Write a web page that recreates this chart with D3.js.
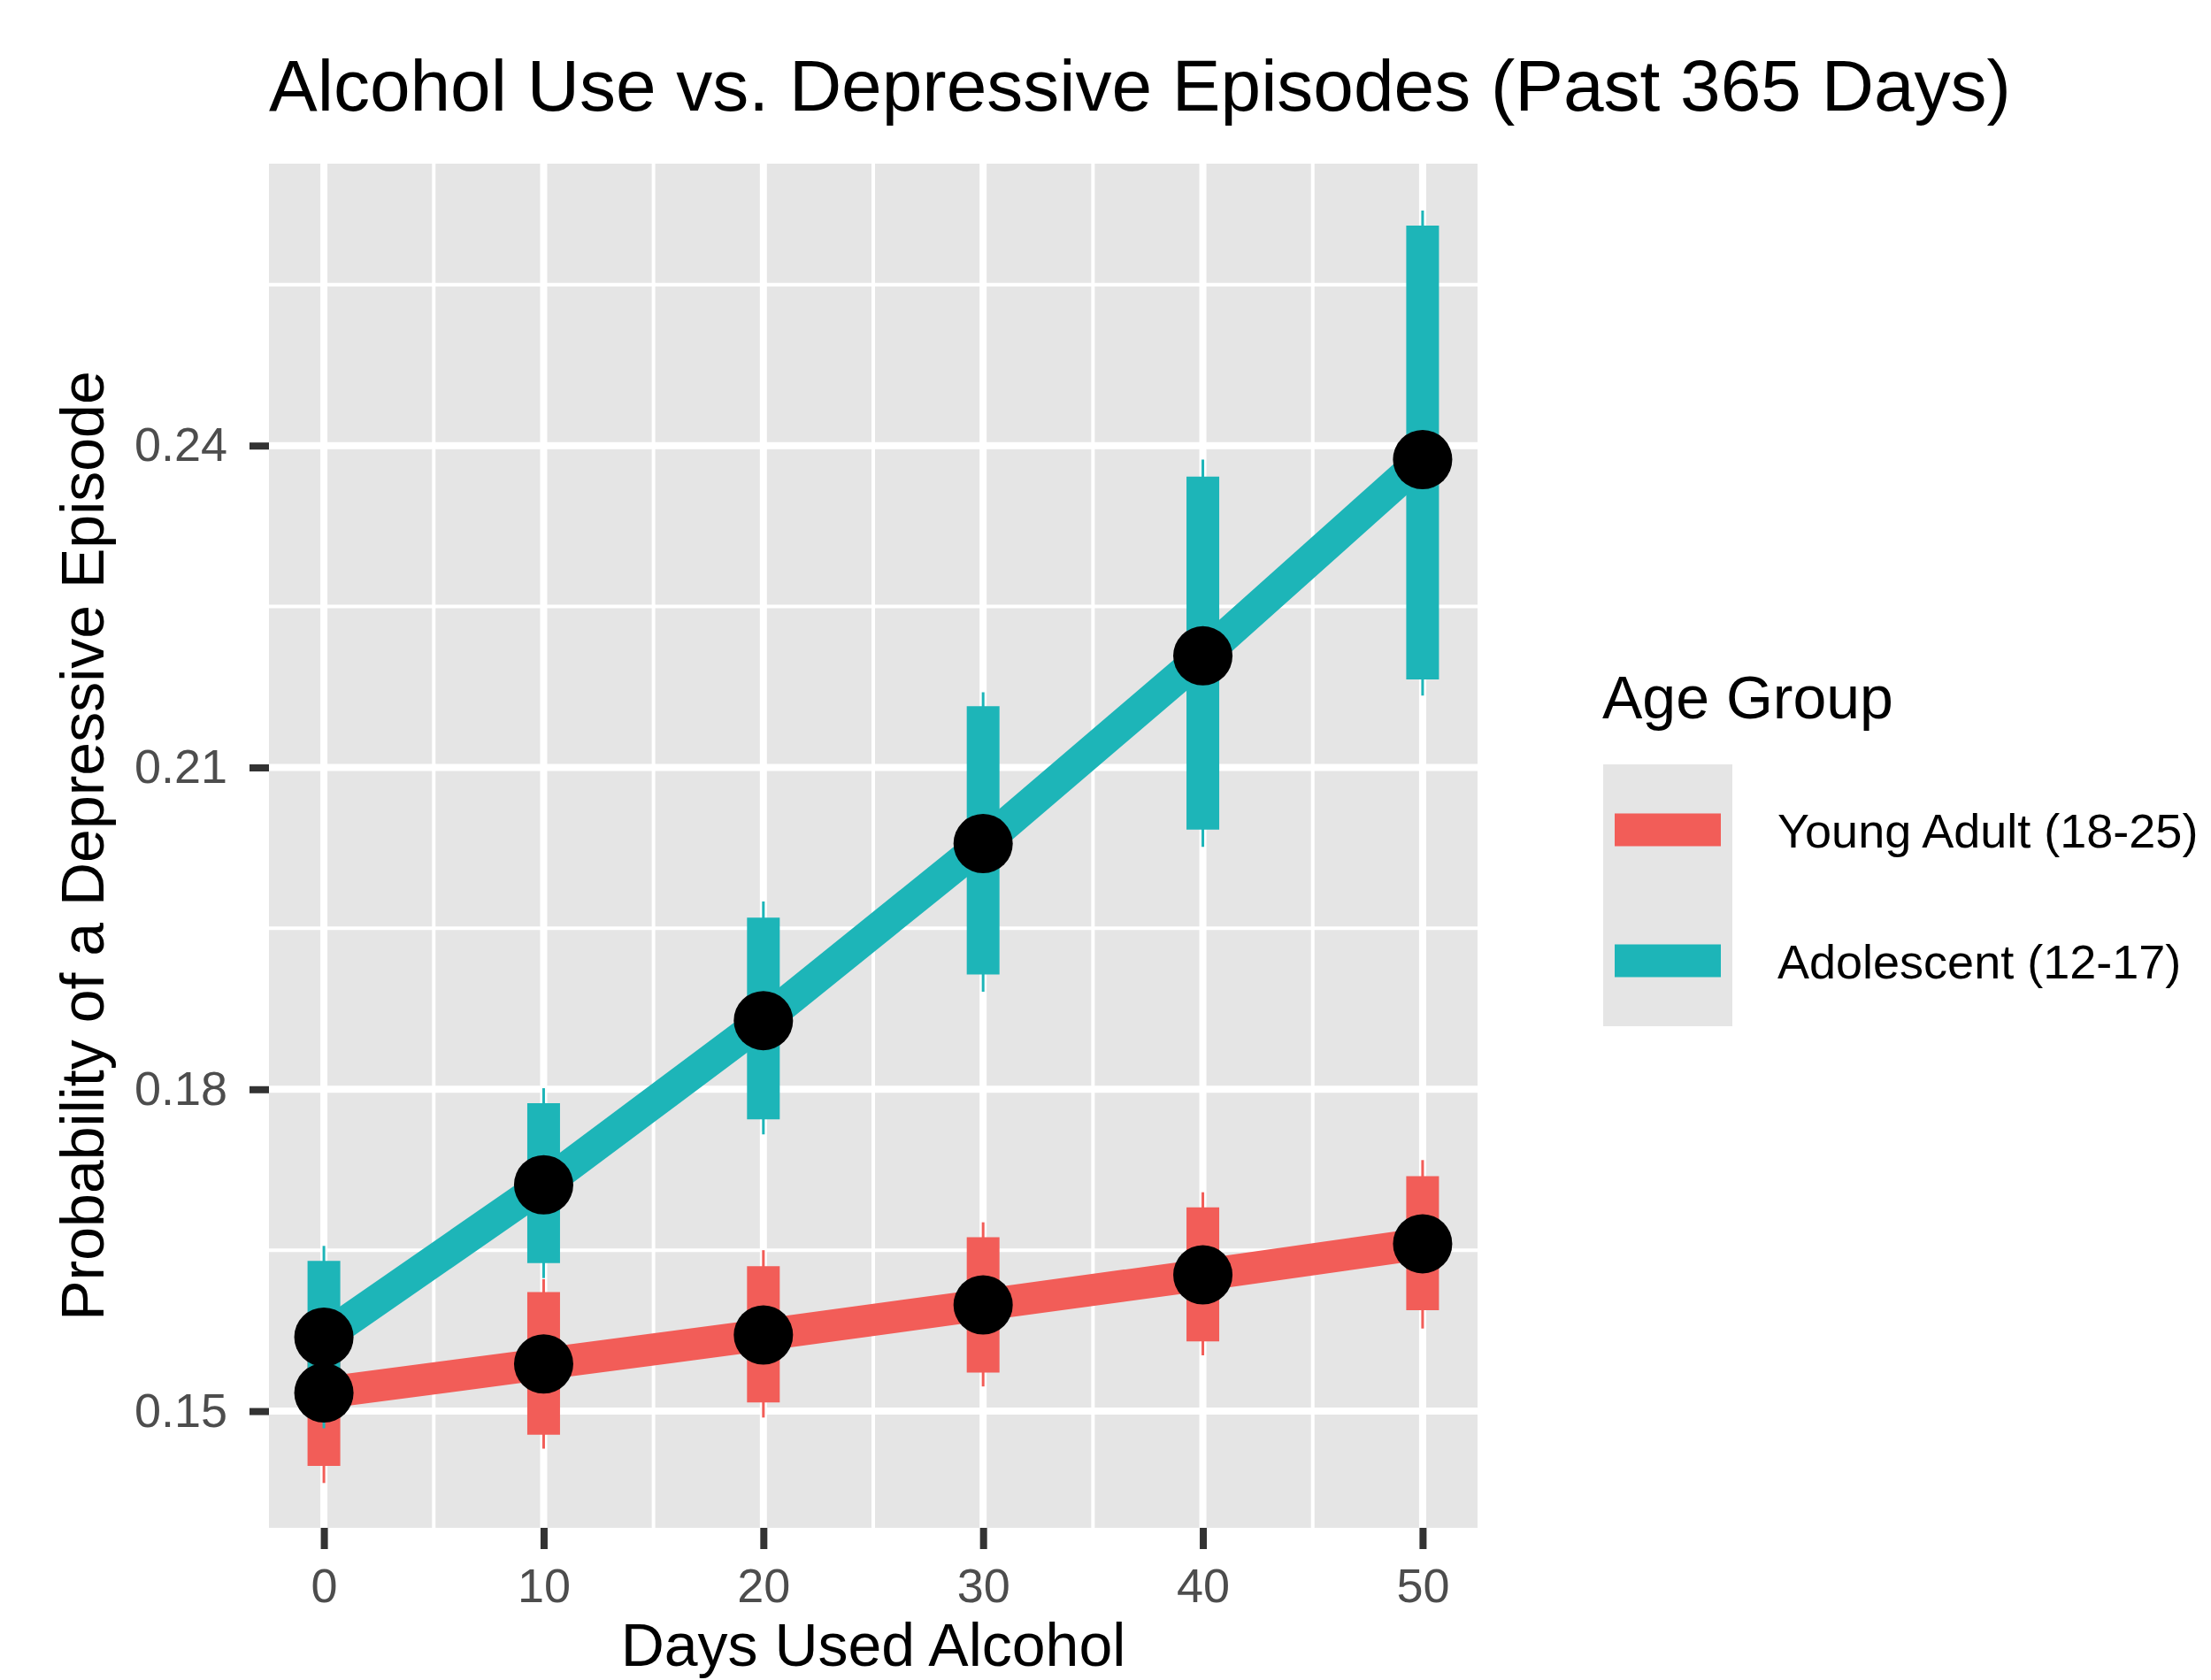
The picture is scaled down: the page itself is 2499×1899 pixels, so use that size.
<!DOCTYPE html>
<html>
<head>
<meta charset="utf-8">
<script src="https://cdn.jsdelivr.net/npm/d3@7"></script>
<style>
  html, body { margin: 0; padding: 0; background: #ffffff; }
  svg { display: block; font-family: "Liberation Sans", Arial, Helvetica, sans-serif; }
</style>
</head>
<body>
<script>
// ---------- DATA ----------
const days = [0, 10, 20, 30, 40, 50];
const groupNames = ["Young Adult (18-25)", "Adolescent (12-17)"];
const groupColors = ["#F25D58", "#1DB5B8"];

const youngAdultProb   = [0.1517, 0.1544, 0.1571, 0.1599, 0.1627, 0.1656];
const youngAdultLo     = [0.1449, 0.1478, 0.1508, 0.1536, 0.1565, 0.1594];
const youngAdultHi     = [0.1585, 0.1611, 0.1635, 0.1662, 0.1690, 0.1719];
const youngAdultLoOuter= [0.1433, 0.1465, 0.1494, 0.1523, 0.1552, 0.1577];
const youngAdultHiOuter= [0.1601, 0.1623, 0.1650, 0.1676, 0.1704, 0.1734];

const adolescentProb   = [0.1569, 0.1711, 0.1864, 0.2029, 0.2204, 0.2387];
const adolescentLo     = [0.1498, 0.1638, 0.1772, 0.1907, 0.2042, 0.2182];
const adolescentHi     = [0.1640, 0.1787, 0.1960, 0.2157, 0.2371, 0.2605];
const adolescentLoOuter= [0.1484, 0.1624, 0.1758, 0.1891, 0.2026, 0.2167];
const adolescentHiOuter= [0.1654, 0.1801, 0.1975, 0.2170, 0.2387, 0.2619];

const xTicks = [0, 10, 20, 30, 40, 50];
const xMinor = [5, 15, 25, 35, 45];
const yTicks = [0.15, 0.18, 0.21, 0.24];
const yMinor = [0.165, 0.195, 0.225, 0.255];

const titleText = "Alcohol Use vs. Depressive Episodes (Past 365 Days)";
const xTitle = "Days Used Alcohol";
const yTitle = "Probability of a Depressive Episode";
const legendTitle = "Age Group";

// ---------- LAYOUT ----------
const W = 2499, H = 1899;
const panel = { left: 304, right: 1670, top: 185, bottom: 1727 };
const fontBase = 68, fontSmall = 54, fontTitle = 82;

const series = [
  { name: groupNames[0], color: groupColors[0], prob: youngAdultProb, lo: youngAdultLo, hi: youngAdultHi, lo2: youngAdultLoOuter, hi2: youngAdultHiOuter },
  { name: groupNames[1], color: groupColors[1], prob: adolescentProb, lo: adolescentLo, hi: adolescentHi, lo2: adolescentLoOuter, hi2: adolescentHiOuter }
];

const svg = d3.select("body").append("svg").attr("width", W).attr("height", H);
svg.append("rect").attr("width", W).attr("height", H).attr("fill", "#ffffff");

// scales (ggplot-like 5% expansion)
const xExt = d3.extent(days);
const xPad = (xExt[1] - xExt[0]) * 0.05;
const x = d3.scaleLinear().domain([xExt[0] - xPad, xExt[1] + xPad]).range([panel.left, panel.right]);
const allLo = d3.min(series, s => d3.min(s.lo));
const allHi = d3.max(series, s => d3.max(s.hi));
const yPad = (allHi - allLo) * 0.05;
const y = d3.scaleLinear().domain([allLo - yPad, allHi + yPad]).range([panel.bottom, panel.top]);

// panel background
svg.append("rect")
  .attr("x", panel.left).attr("y", panel.top)
  .attr("width", panel.right - panel.left).attr("height", panel.bottom - panel.top)
  .attr("fill", "#E5E5E5");

const grid = svg.append("g");
grid.selectAll(".ymin").data(yMinor).join("line")
  .attr("x1", panel.left).attr("x2", panel.right)
  .attr("y1", d => y(d)).attr("y2", d => y(d))
  .attr("stroke", "#ffffff").attr("stroke-width", 4);
grid.selectAll(".xmin").data(xMinor).join("line")
  .attr("y1", panel.top).attr("y2", panel.bottom)
  .attr("x1", d => x(d)).attr("x2", d => x(d))
  .attr("stroke", "#ffffff").attr("stroke-width", 4);
grid.selectAll(".ymaj").data(yTicks).join("line")
  .attr("x1", panel.left).attr("x2", panel.right)
  .attr("y1", d => y(d)).attr("y2", d => y(d))
  .attr("stroke", "#ffffff").attr("stroke-width", 8);
grid.selectAll(".xmaj").data(xTicks).join("line")
  .attr("y1", panel.top).attr("y2", panel.bottom)
  .attr("x1", d => x(d)).attr("x2", d => x(d))
  .attr("stroke", "#ffffff").attr("stroke-width", 8);

// lines
const lineGen = d3.line().x(d => x(d[0])).y(d => y(d[1]));
series.forEach(s => {
  svg.append("path")
    .datum(days.map((d, i) => [d, s.prob[i]]))
    .attr("d", lineGen)
    .attr("fill", "none")
    .attr("stroke", s.color)
    .attr("stroke-width", 36)
    .attr("stroke-linejoin", "round");
});

// error bars
series.forEach(s => {
  const g = svg.append("g");
  g.selectAll(".thin").data(days).join("line")
    .attr("x1", d => x(d)).attr("x2", d => x(d))
    .attr("y1", (d, i) => y(s.lo2[i])).attr("y2", (d, i) => y(s.hi2[i]))
    .attr("stroke", s.color).attr("stroke-width", 3);
  g.selectAll(".thick").data(days).join("line")
    .attr("x1", d => x(d)).attr("x2", d => x(d))
    .attr("y1", (d, i) => y(s.lo[i])).attr("y2", (d, i) => y(s.hi[i]))
    .attr("stroke", s.color).attr("stroke-width", 37);
});

// points
series.forEach(s => {
  svg.append("g").selectAll("circle").data(days).join("circle")
    .attr("cx", d => x(d)).attr("cy", (d, i) => y(s.prob[i]))
    .attr("r", 33.5).attr("fill", "#000000");
});

// axes
const yAxis = svg.append("g").attr("transform", `translate(${panel.left},0)`)
  .call(d3.axisLeft(y).tickValues(yTicks).tickFormat(d3.format(".2f")).tickSize(22).tickPadding(25));
const xAxis = svg.append("g").attr("transform", `translate(0,${panel.bottom})`)
  .call(d3.axisBottom(x).tickValues(xTicks).tickFormat(d3.format("d")).tickSize(24).tickPadding(22));
[xAxis, yAxis].forEach(a => {
  a.select(".domain").remove();
  a.selectAll(".tick line").attr("stroke", "#333333").attr("stroke-width", 8);
  a.selectAll(".tick text").attr("fill", "#4D4D4D").attr("font-size", fontSmall)
    .attr("font-family", "Liberation Sans, Arial, sans-serif");
});

// titles
svg.append("text").attr("x", panel.left).attr("y", 125)
  .attr("font-size", fontTitle).attr("fill", "#000").text(titleText);
svg.append("text").attr("x", (panel.left + panel.right) / 2).attr("y", 1883)
  .attr("text-anchor", "middle").attr("font-size", fontBase).attr("fill", "#000").text(xTitle);
svg.append("text")
  .attr("transform", `translate(117,${(panel.top + panel.bottom) / 2}) rotate(-90)`)
  .attr("text-anchor", "middle").attr("font-size", fontBase).attr("fill", "#000").text(yTitle);

// legend
const leg = svg.append("g");
leg.append("text").attr("x", 1811).attr("y", 812).attr("font-size", fontBase).attr("fill", "#000").text(legendTitle);
leg.append("rect").attr("x", 1812).attr("y", 864).attr("width", 146).attr("height", 296).attr("fill", "#E5E5E5");
const rowH = 148;
series.forEach((s, i) => {
  const cy = 864 + rowH * i + rowH / 2;
  leg.append("rect").attr("x", 1825).attr("y", cy - 18.5).attr("width", 120).attr("height", 37).attr("fill", s.color);
  leg.append("text").attr("x", 2009).attr("y", cy + 20).attr("font-size", fontSmall).attr("fill", "#000").text(s.name);
});
</script>
</body>
</html>
